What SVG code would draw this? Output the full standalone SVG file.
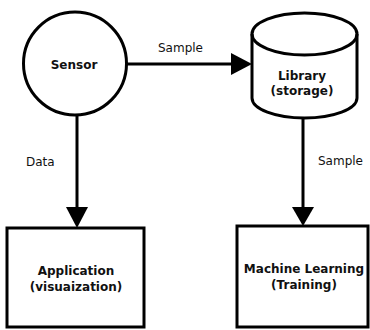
<svg xmlns="http://www.w3.org/2000/svg" width="370" height="330" viewBox="0 0 370 330">
<style>
.shape{fill:#fff;stroke:#000;stroke-width:3}
.line{stroke:#000;stroke-width:3;fill:none}
.head{fill:#000;stroke:none}
.node{font-family:"DejaVu Sans",Verdana,sans-serif;font-size:12px;font-weight:bold;fill:#111;text-anchor:middle}
.lbl{font-family:"DejaVu Sans",Verdana,sans-serif;font-size:12px;fill:#111}
</style>
<rect width="370" height="330" fill="#fff"/>
<g id="connectors">
<line class="line" x1="126" y1="64" x2="234" y2="64"/>
<polygon class="head" points="231,53 252,64 231,75"/>
<text class="lbl" x="158" y="52">Sample</text>
<line class="line" x1="77" y1="115" x2="77" y2="210"/>
<polygon class="head" points="66,207 88,207 77,228"/>
<text class="lbl" x="26" y="166">Data</text>
<line class="line" x1="303" y1="118" x2="303" y2="210"/>
<polygon class="head" points="292,207 314,207 303,226"/>
<text class="lbl" x="318" y="165">Sample</text>
</g>
<g id="sensor">
<circle class="shape" cx="75" cy="63.5" r="51.5"/>
<text class="node" x="74" y="69">Sensor</text>
</g>
<g id="library">
<path class="shape" d="M252,34 A52.5,21 0 0 1 357,34 L357,98 A52.5,20 0 0 1 252,98 Z"/>
<path class="line" d="M252,34 A52.5,21 0 0 0 357,34"/>
<text class="node" x="302" y="80">Library</text>
<text class="node" x="302" y="95">(storage)</text>
</g>
<g id="application">
<rect class="shape" x="7" y="228" width="137" height="99"/>
<text class="node" x="76" y="275">Application</text>
<text class="node" x="76" y="291">(visuaization)</text>
</g>
<g id="ml">
<rect class="shape" x="237" y="226" width="131" height="101"/>
<text class="node" x="304" y="273">Machine Learning</text>
<text class="node" x="304" y="289">(Training)</text>
</g>
</svg>
